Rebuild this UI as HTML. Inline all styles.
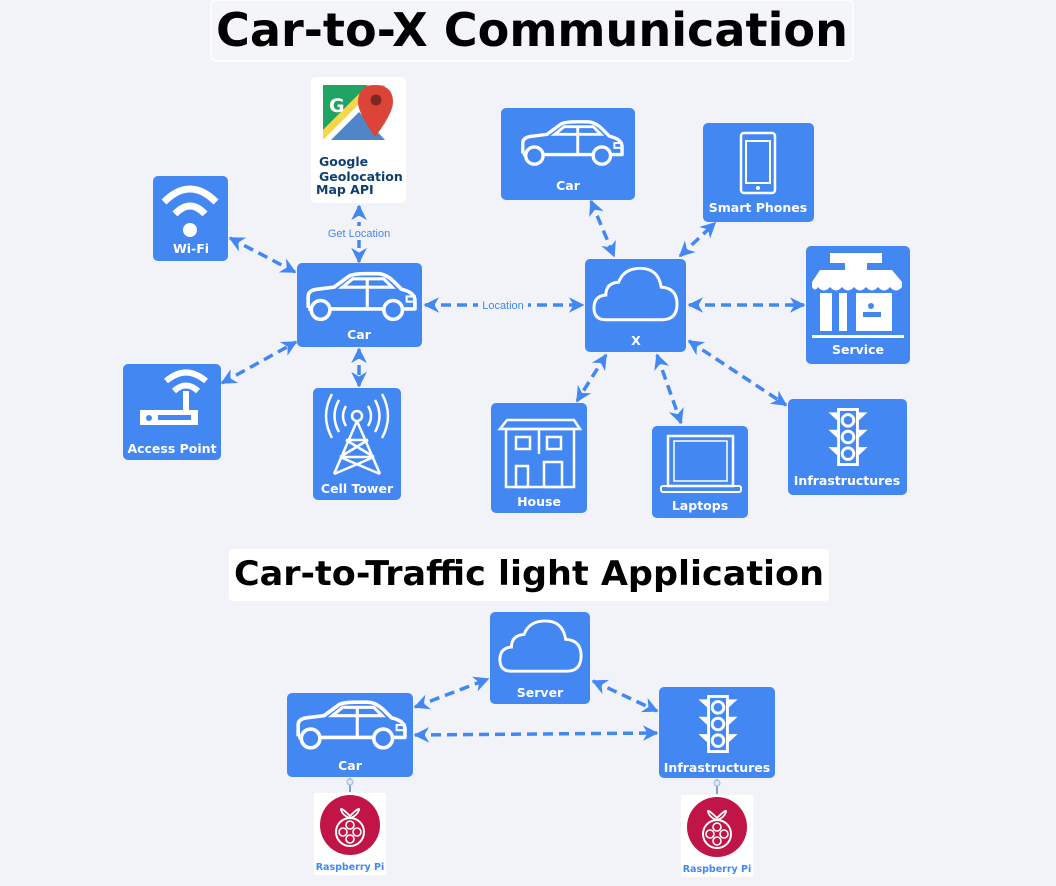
<!DOCTYPE html>
<html><head><meta charset="utf-8"><style>
html,body{margin:0;padding:0;background:#f2f3f8;}
svg{display:block;font-family:"DejaVu Sans",sans-serif;}
</style></head><body>
<svg width="1056" height="886" viewBox="0 0 1056 886" xmlns="http://www.w3.org/2000/svg">
<defs>
<marker id="a" viewBox="0 0 10 10" refX="9" refY="5" markerWidth="4.5" markerHeight="4.5" orient="auto-start-reverse"><path d="M0,0 L10,5 L0,10 L3,5 z" fill="#4387f3"/></marker>
<symbol id="car" viewBox="0 0 110 50"><path d="M5,35 L5,24 Q5,18 14,17 L30,15 L45,4 Q50,2 60,2 L72,2 Q80,2 88,10 L95,17 Q108,20 108,28 L108,36 L96,36 M22,36 L78,36 M10,36 L5,36" fill="none" stroke="#fff" stroke-width="3.5" stroke-linejoin="round"/><path d="M38,15 L48,7 L78,7 L86,15 Z M62,7 L62,15 M62,15 L62,36" fill="none" stroke="#fff" stroke-width="3"/><circle cx="17" cy="37" r="9" fill="#4387f3" stroke="#fff" stroke-width="3.5"/><circle cx="87" cy="37" r="9" fill="#4387f3" stroke="#fff" stroke-width="3.5"/><rect x="100" y="24" width="8" height="5" fill="none" stroke="#fff" stroke-width="2"/></symbol>
<symbol id="cloud" viewBox="0 0 90 60"><path d="M15,55 Q3,55 3,43 Q3,31 15,30 Q15,18 28,17 Q33,3 50,3 Q68,3 71,22 Q87,23 87,39 Q87,55 72,55 Z" fill="none" stroke="#fff" stroke-width="3"/></symbol>
<symbol id="tl" viewBox="0 0 60 80"><path d="M3,6 L16,6 L16,18 Z M57,6 L44,6 L44,18 Z M3,30 L16,30 L16,42 Z M57,30 L44,30 L44,42 Z M3,54 L16,54 L16,66 Z M57,54 L44,54 L44,66 Z" fill="#fff"/><rect x="17" y="2" width="26" height="76" fill="none" stroke="#fff" stroke-width="4"/><circle cx="30" cy="17" r="8" fill="none" stroke="#fff" stroke-width="4"/><circle cx="30" cy="40" r="8" fill="none" stroke="#fff" stroke-width="4"/><circle cx="30" cy="63" r="8" fill="none" stroke="#fff" stroke-width="4"/></symbol>
<symbol id="rpi" viewBox="0 0 74 84"><rect x="0" y="0" width="74" height="84" fill="#fff" stroke="#e6e8ef"/><circle cx="37" cy="33" r="30" fill="#c01546"/><path d="M37,24 Q27,14 28,18 Q30,24 37,26 Q44,24 46,18 Q47,14 37,24 Z" fill="none" stroke="#fff" stroke-width="1.8"/><circle cx="37" cy="40" r="14" fill="none" stroke="#fff" stroke-width="2"/><circle cx="37" cy="33" r="4" fill="none" stroke="#fff" stroke-width="1.6"/><circle cx="30" cy="40" r="4" fill="none" stroke="#fff" stroke-width="1.6"/><circle cx="44" cy="40" r="4" fill="none" stroke="#fff" stroke-width="1.6"/><circle cx="37" cy="47" r="4" fill="none" stroke="#fff" stroke-width="1.6"/><text x="37" y="78" font-size="9.5" font-weight="bold" fill="#4387f3" text-anchor="middle">Raspberry Pi</text></symbol>
</defs>

<rect x="211" y="0" width="642" height="61" rx="5" fill="#f4f5f9" stroke="#fff" stroke-width="1.5"/>
<text x="532" y="46" font-size="46" font-weight="bold" text-anchor="middle" textLength="632" lengthAdjust="spacingAndGlyphs" fill="#000">Car-to-X Communication</text>

<g stroke="#4387f3" stroke-width="3.5" stroke-dasharray="10,6" fill="none" marker-start="url(#a)" marker-end="url(#a)">
<line x1="359" y1="206" x2="359" y2="262"/>
<line x1="230" y1="238" x2="295" y2="272"/>
<line x1="222" y1="383" x2="296" y2="342"/>
<line x1="359" y1="349" x2="359" y2="386"/>
<line x1="425" y1="305" x2="583" y2="305"/>
<line x1="591" y1="201" x2="614" y2="256"/>
<line x1="680" y1="256" x2="715" y2="223"/>
<line x1="689" y1="305" x2="804" y2="305"/>
<line x1="606" y1="355" x2="577" y2="401"/>
<line x1="657" y1="355" x2="681" y2="423"/>
<line x1="689" y1="341" x2="786" y2="405"/>
<line x1="415" y1="707" x2="488" y2="679"/>
<line x1="593" y1="681" x2="657" y2="711"/>
<line x1="415" y1="735" x2="657" y2="733"/>
</g>
<rect x="322" y="226" width="74" height="14" fill="#f2f3f8"/>
<text x="359" y="237" font-size="11" fill="#4387f3" text-anchor="middle" font-family="Liberation Sans,sans-serif">Get Location</text>
<rect x="478" y="299" width="50" height="13" fill="#f2f3f8"/>
<text x="503" y="309" font-size="11" fill="#4387f3" text-anchor="middle" font-family="Liberation Sans,sans-serif">Location</text>

<g fill="#4387f3">
<rect x="311" y="77" width="95" height="126" rx="5" fill="#fff"/>
<g transform="translate(323,85)">
<path d="M0,0 L45,0 L0,45 Z" fill="#1fa463"/>
<path d="M0,45 L45,0 L55,0 L0,55 Z" fill="#f8d648"/>
<path d="M8,55 L36,27 L62,55 Z" fill="#4e86c9"/>
<path d="M45,0 L62,0 L62,40 L48,18 Z" fill="#c8c8c8"/>
<path d="M52,0 Q70,0 70,17 Q70,28 52,52 Q35,28 35,17 Q35,0 52,0 Z" fill="#db4437"/>
<circle cx="53" cy="15" r="5.5" fill="#7a2a22"/>
<text x="6" y="27" font-size="19" font-weight="bold" fill="#fff">G</text>
</g>
<text x="319" y="166" font-size="12.5" font-weight="bold" fill="#0d3f73">Google</text>
<text x="319" y="181" font-size="12.5" font-weight="bold" fill="#0d3f73">Geolocation</text>
<text x="316" y="194" font-size="12.5" font-weight="bold" fill="#0d3f73">Map API</text>

<rect x="153" y="176" width="75" height="85" rx="5"/>
<path d="M164,202 Q190,176 216,202" stroke="#fff" stroke-width="7" fill="none"/>
<path d="M175,214 Q190,198 205,214" stroke="#fff" stroke-width="7" fill="none"/>
<circle cx="190" cy="230" r="7" fill="#fff"/>
<text x="191" y="253" font-size="12.5" font-weight="bold" fill="#fff" text-anchor="middle">Wi-Fi</text>

<rect x="297" y="263" width="125" height="84" rx="5"/>
<use href="#car" x="303" y="270" width="114" height="55"/>
<text x="359" y="339" font-size="12.5" font-weight="bold" fill="#fff" text-anchor="middle">Car</text>

<rect x="123" y="364" width="98" height="96" rx="5"/>
<path d="M166,381 Q186,364 206,381" stroke="#fff" stroke-width="6" fill="none"/>
<path d="M174,391 Q186,380 198,391" stroke="#fff" stroke-width="6" fill="none"/>
<rect x="183" y="391" width="6" height="20" fill="#fff"/>
<rect x="140" y="410" width="58" height="15" fill="#fff"/>
<circle cx="149" cy="418" r="3" fill="#4387f3"/><rect x="158" y="415" width="33" height="5" fill="#4387f3"/>
<text x="172" y="453" font-size="12.5" font-weight="bold" fill="#fff" text-anchor="middle">Access Point</text>

<rect x="313" y="388" width="88" height="112" rx="5"/>
<g stroke="#fff" stroke-width="2.5" fill="none">
<circle cx="357" cy="416" r="5"/>
<path d="M346,406 Q340,416 346,426 M368,406 Q374,416 368,426 M339,400 Q330,416 339,432 M375,400 Q384,416 375,432 M332,394 Q320,416 332,438 M382,394 Q394,416 382,438"/>
<path d="M357,421 L334,474 M357,421 L380,474 M346,440 L368,440 M340,457 L374,457 M346,440 L374,457 M368,440 L340,457 M340,457 L380,474 M374,457 L334,474"/>
</g>
<text x="357" y="493" font-size="12.5" font-weight="bold" fill="#fff" text-anchor="middle">Cell Tower</text>

<rect x="501" y="108" width="134" height="92" rx="5"/>
<use href="#car" x="518" y="116" width="106" height="56"/>
<text x="568" y="190" font-size="12.5" font-weight="bold" fill="#fff" text-anchor="middle">Car</text>

<rect x="703" y="123" width="111" height="99" rx="5"/>
<rect x="741" y="133" width="34" height="60" rx="3" fill="none" stroke="#fff" stroke-width="2.5"/>
<rect x="746" y="141" width="24" height="42" fill="none" stroke="#fff" stroke-width="2"/>
<circle cx="758" cy="188" r="2" fill="#fff"/>
<text x="758" y="212" font-size="12.5" font-weight="bold" fill="#fff" text-anchor="middle">Smart Phones</text>

<rect x="585" y="259" width="101" height="93" rx="5"/>
<use href="#cloud" x="591" y="265" width="89" height="60"/>
<text x="636" y="345" font-size="12.5" font-weight="bold" fill="#fff" text-anchor="middle">X</text>

<rect x="806" y="246" width="104" height="118" rx="5"/>
<rect x="830" y="253" width="52" height="10" fill="#fff"/>
<rect x="845" y="262" width="22" height="8" fill="#fff"/>
<path d="M820,270 L892,270 L902,282 L812,282 Z" fill="#fff"/>
<path d="M812,282 L902,282 L902,287 Q896,294 890,287 Q884,294 878,287 Q872,294 866,287 Q860,294 854,287 Q848,294 842,287 Q836,294 830,287 Q824,294 818,287 Q815,292 812,287 Z" fill="#fff"/>
<rect x="820" y="293" width="12" height="38" fill="#fff"/>
<rect x="839" y="293" width="8" height="38" fill="#fff"/>
<rect x="856" y="293" width="36" height="38" fill="#fff"/>
<circle cx="871" cy="306" r="3" fill="#4387f3"/><rect x="863" y="312" width="18" height="5" fill="#4387f3"/>
<rect x="812" y="335" width="92" height="3" fill="#fff"/>
<text x="858" y="354" font-size="12.5" font-weight="bold" fill="#fff" text-anchor="middle">Service</text>

<rect x="491" y="403" width="96" height="110" rx="5"/>
<g stroke="#fff" stroke-width="2.5" fill="none">
<path d="M500,429 L507,420 L574,420 L580,429 Z"/>
<rect x="506" y="429" width="68" height="58"/>
<rect x="516" y="437" width="14" height="12"/><rect x="547" y="437" width="14" height="12"/>
<rect x="516" y="466" width="12" height="21"/><rect x="544" y="462" width="18" height="25"/>
<path d="M539,454 L539,429"/>
</g>
<text x="539" y="506" font-size="12.5" font-weight="bold" fill="#fff" text-anchor="middle">House</text>

<rect x="652" y="426" width="96" height="92" rx="5"/>
<rect x="668" y="436" width="65" height="50" fill="none" stroke="#fff" stroke-width="2.5"/>
<rect x="674" y="441" width="53" height="40" fill="none" stroke="#fff" stroke-width="1.5"/>
<rect x="661" y="486" width="80" height="6" rx="2" fill="none" stroke="#fff" stroke-width="2"/>
<text x="700" y="510" font-size="12.5" font-weight="bold" fill="#fff" text-anchor="middle">Laptops</text>

<rect x="788" y="399" width="119" height="96" rx="5"/>
<use href="#tl" x="826" y="408" width="44" height="58"/>
<text x="847" y="485" font-size="12.5" font-weight="bold" fill="#fff" text-anchor="middle">Infrastructures</text>
</g>

<rect x="229" y="549" width="600" height="52" rx="4" fill="#fff"/>
<text x="529" y="585" font-size="34" font-weight="bold" text-anchor="middle" textLength="590" lengthAdjust="spacingAndGlyphs" fill="#000">Car-to-Traffic light Application</text>

<g fill="#4387f3">
<rect x="490" y="612" width="100" height="92" rx="5"/>
<use href="#cloud" x="497" y="617" width="87" height="60"/>
<text x="540" y="697" font-size="12.5" font-weight="bold" fill="#fff" text-anchor="middle">Server</text>

<rect x="287" y="693" width="126" height="84" rx="5"/>
<use href="#car" x="293" y="698" width="114" height="56"/>
<text x="350" y="770" font-size="12.5" font-weight="bold" fill="#fff" text-anchor="middle">Car</text>

<rect x="659" y="687" width="116" height="91" rx="5"/>
<use href="#tl" x="696" y="695" width="44" height="58"/>
<text x="717" y="772" font-size="12.5" font-weight="bold" fill="#fff" text-anchor="middle">Infrastructures</text>
</g>
<line x1="350" y1="778" x2="350" y2="792" stroke="#1d4f8a" stroke-width="1"/>
<circle cx="350" cy="782" r="3" fill="#dde6f7" stroke="#9bb5e5"/>
<line x1="717" y1="779" x2="717" y2="794" stroke="#1d4f8a" stroke-width="1"/>
<circle cx="717" cy="783" r="3" fill="#dde6f7" stroke="#9bb5e5"/>
<use href="#rpi" x="313" y="792" width="74" height="84"/>
<use href="#rpi" x="680" y="794" width="74" height="84"/>
</svg>
</body></html>
